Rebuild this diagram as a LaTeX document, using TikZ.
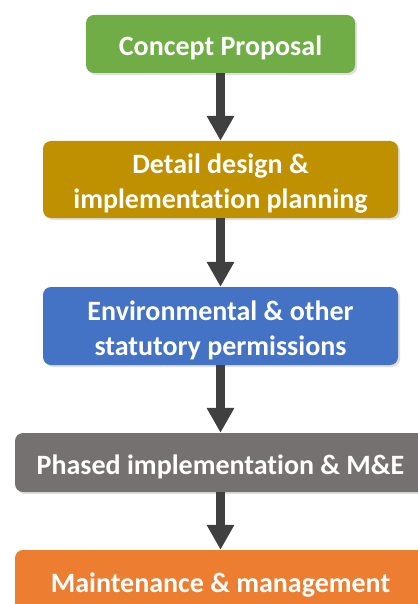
\documentclass[tikz,border=0pt]{standalone}
\usepackage{fontspec}
\setmainfont[Ligatures={NoCommon}]{Carlito}
\usetikzlibrary{arrows.meta,shadows}
\definecolor{stepgreen}{HTML}{70AD47}
\definecolor{stepgold}{HTML}{BF9000}
\definecolor{stepblue}{HTML}{4472C4}
\definecolor{stepgray}{HTML}{767171}
\definecolor{steporange}{HTML}{ED7D31}
\definecolor{arrowgray}{HTML}{404040}
\begin{document}
\begin{tikzpicture}[x=1pt,y=-1pt,
  stagebox/.style={rounded corners=8pt, inner sep=0pt,
    drop shadow={opacity=0.25, shadow xshift=2pt, shadow yshift=-2pt}},
  % caption of a stage, set a little below the box centre
  steptext/.style={inner sep=0pt, align=center, yshift=-4pt,
    text=white, font=\fontsize{28}{35}\selectfont\bfseries},
  flow/.style={draw=arrowgray, line width=9.5pt,
    -{Triangle[width=26pt,length=25pt]}}]
  \useasboundingbox (0,0) rectangle (417,604);
  \node[stagebox, fill=stepgreen, minimum width=269pt, minimum height=58pt,
    label={[steptext]center:Concept Proposal}] (concept) at (220.5,44) {};
  \node[stagebox, fill=stepgold, minimum width=355pt, minimum height=77pt,
    label={[steptext]center:Detail design \&\\implementation planning}]
    (design) at (220.5,179.5) {};
  \node[stagebox, fill=stepblue, minimum width=355pt, minimum height=78pt,
    label={[steptext]center:Environmental \& other\\statutory permissions}]
    (permits) at (220.5,326) {};
  \node[stagebox, fill=stepgray, minimum width=411pt, minimum height=59pt,
    label={[steptext]center:Phased implementation \& M\&E}]
    (phased) at (220.5,462.5) {};
  \node[stagebox, fill=steporange, minimum width=411pt, minimum height=62pt,
    label={[steptext]center:Maintenance \& management}]
    (maint) at (220.5,581) {};
  \draw[flow] (concept.south) -- (design.north);
  \draw[flow] (design.south) -- (permits.north);
  \draw[flow] (permits.south) -- (phased.north);
  \draw[flow] (phased.south) -- (maint.north);
\end{tikzpicture}
\end{document}
